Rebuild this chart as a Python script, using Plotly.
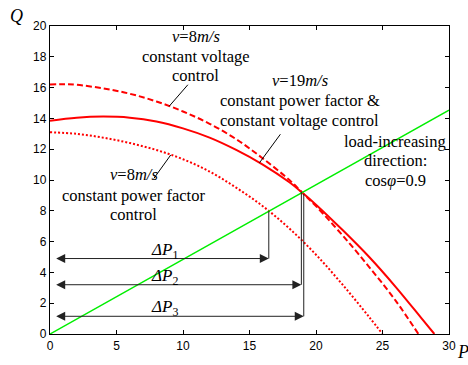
import numpy as np
import plotly.graph_objects as go

# Active power P and reactive power capability Q for each control mode
p_cv8 = [0, 1, 2, 4, 6, 8, 10, 12, 14, 16, 18, 19, 20, 22, 24, 26, 27.7]
q_cv8 = [16.2, 16.22, 16.18, 15.95, 15.6, 15.1, 14.45, 13.65, 12.65, 11.4, 10.0, 9.15, 8.3, 6.4, 4.35, 2.15, 0]

p_v19 = [0, 2, 4, 6, 8, 10, 12, 14, 16, 18, 19, 20, 22, 24, 26, 28, 28.9]
q_v19 = [13.85, 14.05, 14.12, 14.05, 13.8, 13.35, 12.75, 11.95, 11.0, 9.85, 9.15, 8.4, 6.75, 5.0, 3.05, 0.95, 0]

p_pf8 = [0, 2, 4, 6, 8, 10, 12, 14, 16, 18, 20, 22, 24, 25]
q_pf8 = [13.1, 13.0, 12.75, 12.4, 11.95, 11.35, 10.55, 9.5, 8.3, 6.85, 5.15, 3.2, 1.1, 0]

# Load-increasing direction at constant power factor
cos_phi = 0.9
p_load = [0, 30]

# Power margins: end point of each arrow and the height it is drawn at
dp_names = ["1", "2", "3"]
dp_end = [16.45, 18.9, 19.08]
dp_level = [4.9, 3.2, 1.15]

x_ticks = [0, 5, 10, 15, 20, 25, 30]
y_ticks = [0, 2, 4, 6, 8, 10, 12, 14, 16, 18, 20]

SERIF = "Liberation Serif, Times New Roman, serif"
SANS = "Liberation Sans, Arial, sans-serif"
RED = "#ff0000"

tan_phi = np.tan(np.arccos(cos_phi))
q_load = [tan_phi * p for p in p_load]

fig = go.Figure()
fig.add_trace(go.Scatter(x=p_cv8, y=q_cv8, mode="lines", line_shape="spline",
                         line=dict(color=RED, width=2, dash="6px,3px")))
fig.add_trace(go.Scatter(x=p_v19, y=q_v19, mode="lines", line_shape="spline",
                         line=dict(color=RED, width=2)))
fig.add_trace(go.Scatter(x=p_pf8, y=q_pf8, mode="lines", line_shape="spline",
                         line=dict(color=RED, width=2, dash="2px,2px")))
fig.add_trace(go.Scatter(x=p_load, y=q_load, mode="lines",
                         line=dict(color="#00ee00", width=1.5)))

curves = [(p_pf8, q_pf8), (p_cv8, q_cv8), (p_v19, q_v19)]
annotations = []
for name, pe, lvl, (pc, qc) in zip(dp_names, dp_end, dp_level, curves):
    top = float(np.interp(pe, pc, qc))
    fig.add_trace(go.Scatter(x=[pe, pe], y=[lvl, top], mode="lines",
                             line=dict(color="#222222", width=1)))
    annotations.append(dict(x=pe, y=lvl, ax=0.35, ay=lvl, xref="x", yref="y",
                            axref="x", ayref="y", text="", showarrow=True,
                            arrowhead=2, arrowside="end+start", arrowsize=1.8,
                            arrowwidth=1, arrowcolor="#222222"))
    annotations.append(dict(x=8.6, y=lvl, xref="x", yref="y", yshift=8,
                            text="<i>ΔP</i><sub>" + name + "</sub>", showarrow=False,
                            font=dict(family=SERIF, size=17, color="black")))

def text_block(lines, x, ys, size=16.5):
    for t, y in zip(lines, ys):
        annotations.append(dict(x=x, y=y, xref="x", yref="y", text=t, showarrow=False,
                                font=dict(family=SERIF, size=size, color="black")))

text_block(["<i>v</i>=8<i>m/s</i>", "constant voltage", "control"], 10.95, [19.31, 18.04, 16.76])
text_block(["<i>v</i>=19<i>m/s</i>", "constant power factor &", "constant voltage control"],
           18.78, [16.44, 15.17, 13.89])
text_block(["<i>v</i>=8<i>m/s</i>", "constant power factor", "control"], 6.3, [10.38, 9.0, 7.73])
text_block(["load-increasing", "direction:", "cos<i>φ</i>=" + str(cos_phi)], 25.96, [12.51, 11.24, 9.96])

# Leader lines from the text blocks to their curves
for px, pc, qc, ax, ay in [(8.96, p_cv8, q_cv8, 20, -23),
                           (15.75, p_v19, q_v19, 22, -30),
                           (9.08, p_pf8, q_pf8, -18, 25)]:
    annotations.append(dict(x=px, y=float(np.interp(px, pc, qc)), xref="x", yref="y",
                            ax=ax, ay=ay, text="", showarrow=True, arrowhead=0,
                            arrowwidth=1, arrowcolor="black"))

# Axis titles
annotations.append(dict(x=0, y=1, xref="paper", yref="paper", text="<i>Q</i>",
                        xanchor="center", yanchor="middle", xshift=-34, yshift=10,
                        showarrow=False, font=dict(family=SERIF, size=18, color="black")))
annotations.append(dict(x=1, y=0, xref="paper", yref="paper", text="<i>P</i>",
                        xanchor="left", yanchor="top", xshift=6, yshift=-6,
                        showarrow=False, font=dict(family=SERIF, size=18, color="black")))

axis_common = dict(showgrid=False, zeroline=False, showline=True, linecolor="black",
                   linewidth=1.3, ticks="inside", ticklen=4, tickcolor="black",
                   mirror="ticks", tickfont=dict(family=SANS, size=12, color="black"))
fig.update_layout(
    width=468, height=365,
    margin=dict(l=50, r=16, t=26, b=25),
    paper_bgcolor="white", plot_bgcolor="white",
    showlegend=False,
    xaxis=dict(range=[0, 30], tickvals=x_ticks, **axis_common),
    yaxis=dict(range=[0, 20], tickvals=y_ticks, **axis_common),
    annotations=annotations,
)
fig.write_html("out.html")
